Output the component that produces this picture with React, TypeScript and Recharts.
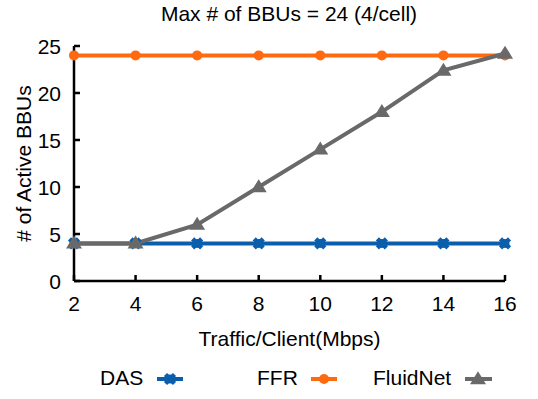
import { LineChart, Line, XAxis, YAxis, Label } from "recharts";

const traffic = [2, 4, 6, 8, 10, 12, 14, 16];
const das = [4, 4, 4, 4, 4, 4, 4, 4];
const ffr = [24, 24, 24, 24, 24, 24, 24, 24];
const fluidNet = [4, 4, 6, 10, 14, 18, 22.4, 24.2];
const xTicks = [2, 4, 6, 8, 10, 12, 14, 16];
const yTicks = [0, 5, 10, 15, 20, 25];

const BLUE = "#0a5fad";
const ORANGE = "#ff6a10";
const GRAY = "#696969";
const FONT = "'Liberation Sans', Arial, sans-serif";

const data = traffic.map((t, i) => ({
  traffic: t,
  das: das[i],
  ffr: ffr[i],
  fluidNet: fluidNet[i],
}));

function crossMark(cx: number, cy: number, key?: string | number) {
  const s = 4.5;
  return (
    <g key={key}>
      <path
        d={`M${cx - s},${cy - s}L${cx + s},${cy + s}M${cx - s},${cy + s}L${cx + s},${cy - s}`}
        stroke={BLUE}
        strokeWidth={4.5}
      />
      <circle cx={cx} cy={cy} r={4.5} fill={BLUE} />
    </g>
  );
}

function triMark(cx: number, cy: number, key?: string | number) {
  const h = 13;
  const w = 8;
  return (
    <path
      key={key}
      d={`M${cx},${cy - h * 0.6}L${cx + w},${cy + h * 0.4}L${cx - w},${cy + h * 0.4}Z`}
      fill={GRAY}
    />
  );
}

const XTick = (p: any) => (
  <g>
    <line x1={p.x} x2={p.x} y1={p.y} y2={p.y - 6} stroke="#000" strokeWidth={2.5} />
    <text x={p.x} y={p.y + 30} textAnchor="middle" fontSize={21} fontFamily={FONT} fill="#000">
      {p.payload.value}
    </text>
  </g>
);

const YTick = (p: any) => (
  <g>
    <line x1={p.x} x2={p.x + 6} y1={p.y} y2={p.y} stroke="#000" strokeWidth={2.5} />
    <text x={p.x - 13} y={p.y + 8} textAnchor="end" fontSize={21} fontFamily={FONT} fill="#000">
      {p.payload.value}
    </text>
  </g>
);

export default function App() {
  return (
    <div style={{ position: "absolute", left: 0, top: 0, width: 538, height: 399, background: "#fff" }}>
      <LineChart
        width={538}
        height={399}
        data={data}
        margin={{ top: 46, right: 33, left: 0, bottom: 0 }}
      >
        <XAxis
          dataKey="traffic"
          type="number"
          domain={[2, 16]}
          ticks={xTicks}
          height={118}
          tickSize={0}
          tickMargin={0}
          tickLine={false}
          axisLine={{ stroke: "#000", strokeWidth: 2.5 }}
          tick={XTick}
        >
          <Label
            content={(p: any) => (
              <text
                x={p.viewBox.x + p.viewBox.width / 2}
                y={p.viewBox.y + 65}
                textAnchor="middle"
                fontSize={21}
                fontFamily={FONT}
              >
                Traffic/Client(Mbps)
              </text>
            )}
          />
        </XAxis>
        <YAxis
          type="number"
          domain={[0, 25]}
          ticks={yTicks}
          width={74}
          tickSize={0}
          tickMargin={0}
          tickLine={false}
          axisLine={{ stroke: "#000", strokeWidth: 2.5 }}
          tick={YTick}
        >
          <Label
            content={(p: any) => {
              const cy = p.viewBox.y + p.viewBox.height / 2;
              return (
                <text
                  x={31}
                  y={cy}
                  transform={`rotate(-90, 31, ${cy})`}
                  textAnchor="middle"
                  fontSize={21}
                  fontFamily={FONT}
                >
                  # of Active BBUs
                </text>
              );
            }}
          />
        </YAxis>
        <Line
          dataKey="das"
          stroke={BLUE}
          strokeWidth={4}
          isAnimationActive={false}
          dot={(p: any) => crossMark(p.cx, p.cy, p.index)}
        />
        <Line
          dataKey="ffr"
          stroke={ORANGE}
          strokeWidth={4}
          isAnimationActive={false}
          dot={{ r: 5, fill: ORANGE, stroke: ORANGE, strokeWidth: 0 }}
        />
        <Line
          dataKey="fluidNet"
          stroke={GRAY}
          strokeWidth={4}
          isAnimationActive={false}
          dot={(p: any) => triMark(p.cx, p.cy, p.index)}
        />
      </LineChart>
      <svg
        width={538}
        height={399}
        style={{ position: "absolute", left: 0, top: 0, pointerEvents: "none" }}
        fontFamily={FONT}
        fontSize={21}
      >
        <text x={289} y={21} textAnchor="middle">
          Max # of BBUs = 24 (4/cell)
        </text>
        <text x={100} y={385}>DAS</text>
        <line x1={157} x2={183} y1={379} y2={379} stroke={BLUE} strokeWidth={4} />
        {crossMark(170, 379)}
        <text x={257} y={385}>FFR</text>
        <line x1={311} x2={337} y1={379} y2={379} stroke={ORANGE} strokeWidth={4} />
        <circle cx={324} cy={379} r={5} fill={ORANGE} />
        <text x={373} y={385}>FluidNet</text>
        <line x1={465} x2={492} y1={379} y2={379} stroke={GRAY} strokeWidth={4} />
        {triMark(478, 379)}
      </svg>
    </div>
  );
}
